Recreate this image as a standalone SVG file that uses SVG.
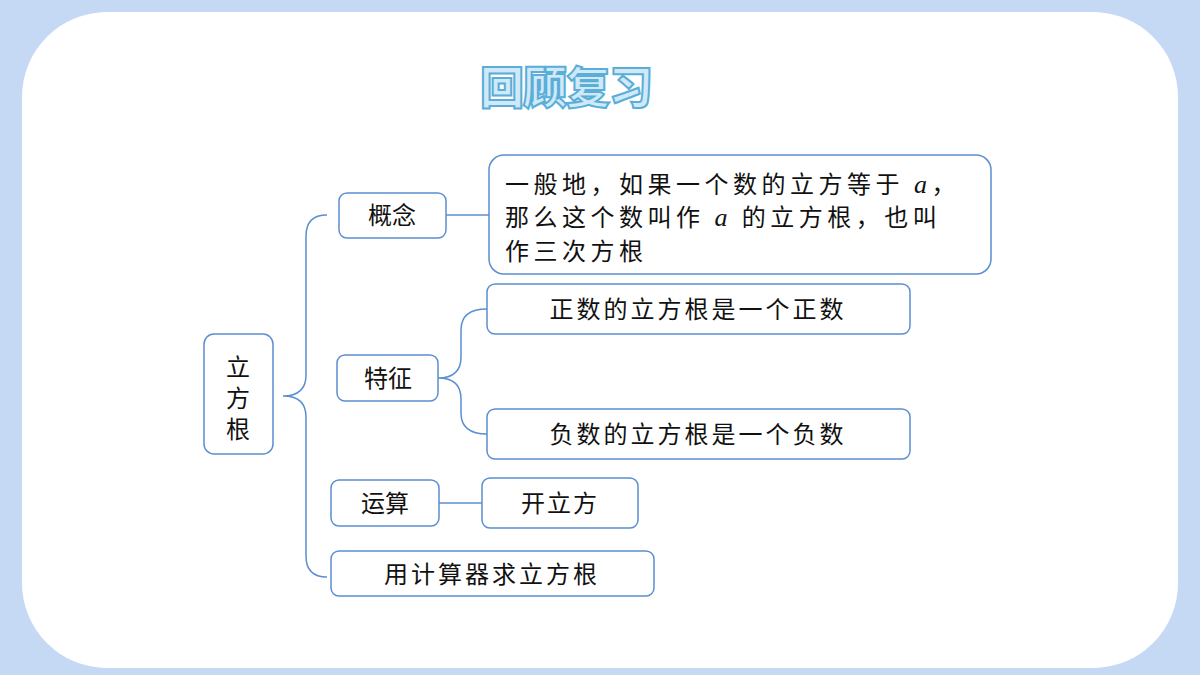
<svg xmlns="http://www.w3.org/2000/svg" width="1200" height="675" viewBox="0 0 1200 675">
<style>
.b{fill:#fff;stroke:#5b8fd0;stroke-width:1.5}
.t{font-family:"Noto Sans CJK SC","Noto Sans",sans-serif;font-size:24px;fill:#111}
.c{fill:none;stroke:#5b8fd0;stroke-width:1.5}
.i{font-family:"Liberation Serif",serif;font-style:italic;font-size:26px}
</style>
<rect width="1200" height="675" fill="#c5d9f5"/>
<rect x="22" y="12" width="1156" height="656" rx="85" fill="#fff"/>
<text x="566" y="104" text-anchor="middle" font-family="Noto Sans CJK SC,sans-serif" font-weight="900" font-size="44" fill="#cfe9f8" stroke="#5aaed8" stroke-width="2" letter-spacing="-1">回顾复习</text>
<g id="connectors">
<path class="c" d="M327,215 Q306,215 306,236 V375 Q306,396 283,396 Q306,396 306,417 V556 Q306,577 327,577"/>
<path class="c" d="M446,215 H489"/>
<path class="c" d="M487,309 Q461,309 461,330 V357 Q461,378 438,378 Q461,378 461,399 V413 Q461,434 487,434"/>
<path class="c" d="M439,503 H482"/>
</g>
<g id="root"><rect class="b" x="204" y="334" width="69" height="120" rx="10"/>
<text class="t" x="238" y="376" text-anchor="middle" font-size="21">立</text><text class="t" x="238" y="407" text-anchor="middle" font-size="21">方</text><text class="t" x="238" y="438" text-anchor="middle" font-size="21">根</text></g>
<g id="gainian"><rect class="b" x="339" y="193" width="107" height="45" rx="8"/><text class="t" x="392" y="224" text-anchor="middle">概念</text></g>
<g id="def"><rect class="b" x="489" y="155" width="502" height="119" rx="15"/>
<text class="t" x="505" y="193" letter-spacing="4.5">一般地，如果一个数的立方等于 <tspan class="i">a</tspan>，</text>
<text class="t" x="505" y="226" letter-spacing="4.5">那么这个数叫作 <tspan class="i">a</tspan> 的立方根，也叫</text>
<text class="t" x="505" y="260" letter-spacing="4.5">作三次方根</text></g>
<g id="tezheng"><rect class="b" x="337" y="355" width="101" height="46" rx="8"/><text class="t" x="388" y="387" text-anchor="middle">特征</text></g>
<g id="pos"><rect class="b" x="487" y="284" width="423" height="50" rx="8"/><text class="t" x="698" y="318" text-anchor="middle" letter-spacing="3">正数的立方根是一个正数</text></g>
<g id="neg"><rect class="b" x="487" y="409" width="423" height="50" rx="8"/><text class="t" x="698" y="443" text-anchor="middle" letter-spacing="3">负数的立方根是一个负数</text></g>
<g id="yunsuan"><rect class="b" x="331" y="480" width="108" height="46" rx="8"/><text class="t" x="385" y="512" text-anchor="middle">运算</text></g>
<g id="kai"><rect class="b" x="482" y="478" width="156" height="50" rx="8"/><text class="t" x="560" y="512" text-anchor="middle" letter-spacing="2">开立方</text></g>
<g id="calc"><rect class="b" x="331" y="551" width="323" height="45" rx="8"/><text class="t" x="492" y="583" text-anchor="middle" letter-spacing="3">用计算器求立方根</text></g>
</svg>
